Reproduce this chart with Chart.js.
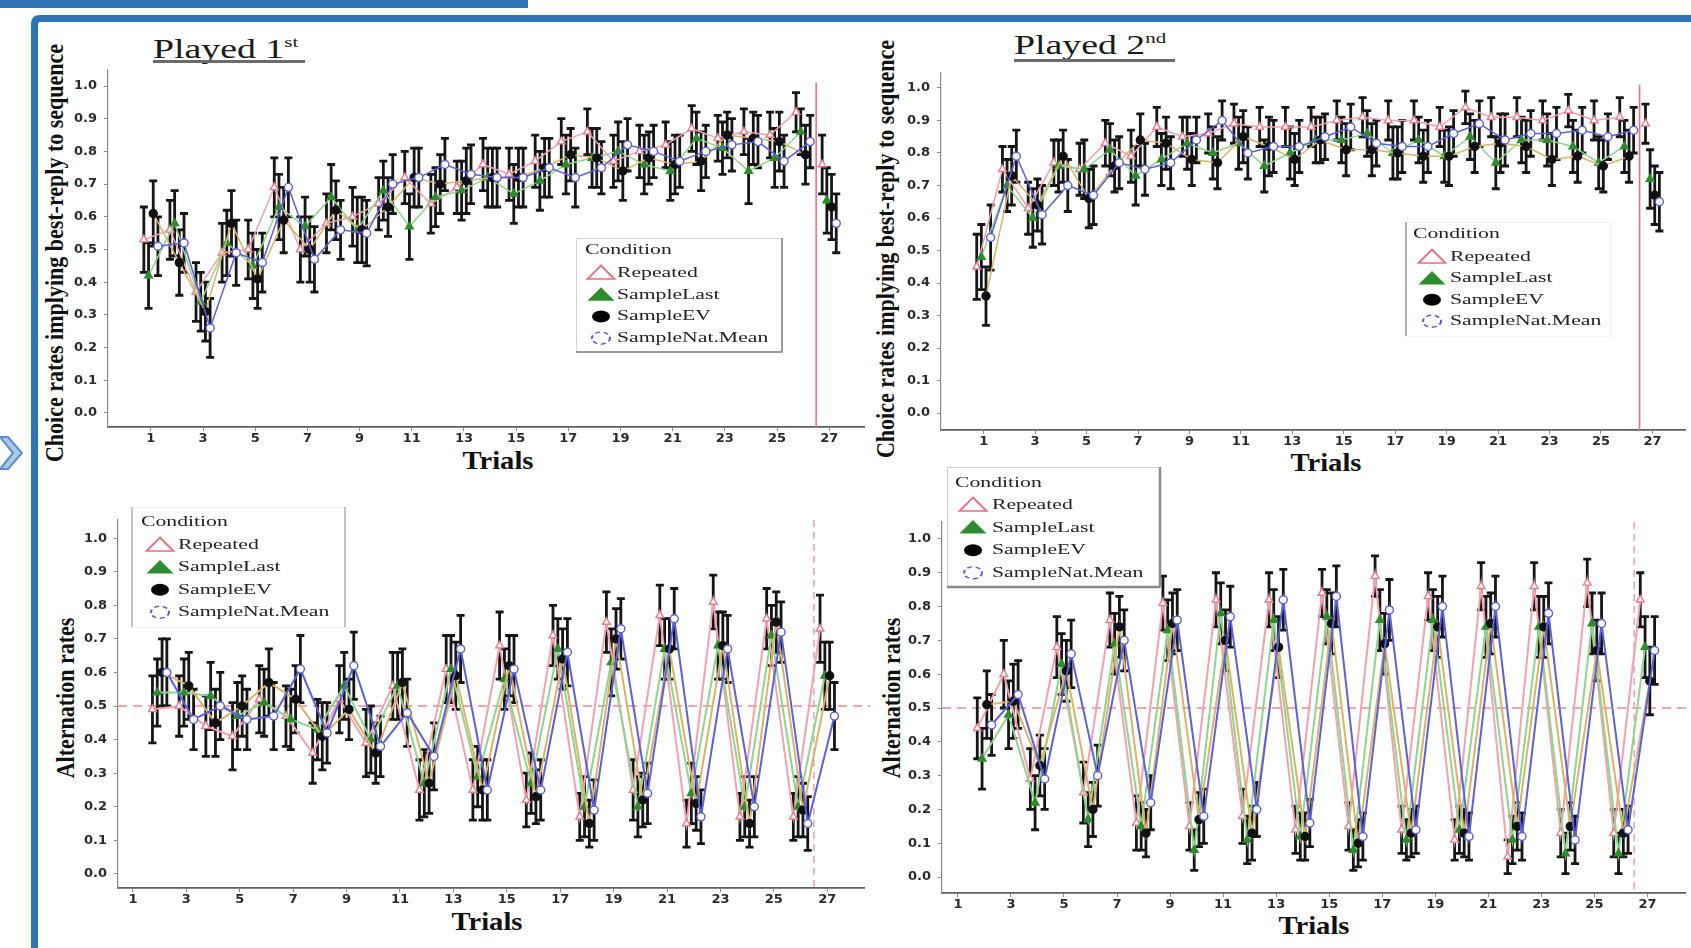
<!DOCTYPE html>
<html>
<head>
<meta charset="utf-8">
<script src="https://cdn.jsdelivr.net/npm/chart.js@4.4.1/dist/chart.umd.min.js"></script>
<style>
  html, body { margin:0; padding:0; background:#fff; }
  body { width:1691px; height:948px; overflow:hidden; position:relative; font-family:'Liberation Serif', serif; }
  canvas { position:absolute; }
  #deco { position:absolute; left:0; top:0; }
  .ttl { position:absolute; white-space:nowrap; color:#1a1a1a; font-size:27px; line-height:1; transform-origin:0 0; transform:scaleX(1.4); }
  .ttl span { font-size:15px; position:relative; top:-11px; }
  .uline { position:absolute; height:3px; background:#6b6b6b; }
  .ytitle, .xtitle { position:absolute; left:0; top:0; white-space:nowrap; font-weight:bold; color:#111; line-height:1; transform-origin:0 0; }
  .ytitle { font-size:22px; }
  .xtitle { font-size:26px; }
</style>
</head>
<body>
<svg id="deco" width="1691" height="948">
  <rect x="0" y="0" width="528" height="8" fill="#2e74b5"/>
  <path d="M34.5 948 V24 Q34.5 18.5 40 18.5 H1691" fill="none" stroke="#2e74b5" stroke-width="7"/>
  <polygon points="0,437 8,437 22,453 8,469 0,469 13,453" fill="#a9c9e8" stroke="#5b8fc9" stroke-width="2"/>
</svg>

<div class="ttl" style="left:153px;top:36px">Played 1<span>st</span></div>
<div class="uline" style="left:153px;top:60px;width:152px"></div>
<div class="ttl" style="left:1014px;top:32px">Played 2<span>nd</span></div>
<div class="uline" style="left:1014px;top:59px;width:161px"></div>

<div class="ytitle" id="yt1">Choice rates implying best-reply to sequence</div>
<div class="ytitle" id="yt2">Choice rates implying best-reply to sequence</div>
<div class="ytitle" id="yt3">Alternation rates</div>
<div class="ytitle" id="yt4">Alternation rates</div>
<div class="xtitle" id="xt1">Trials</div>
<div class="xtitle" id="xt2">Trials</div>
<div class="xtitle" id="xt3">Trials</div>
<div class="xtitle" id="xt4">Trials</div>

<canvas id="c1" width="830" height="456" style="left:40px;top:22px"></canvas>
<canvas id="c2" width="821" height="456" style="left:870px;top:22px"></canvas>
<canvas id="c3" width="830" height="470" style="left:40px;top:478px"></canvas>
<canvas id="c4" width="821" height="508" style="left:870px;top:440px"></canvas>

<script>
// ---------------- DATA ----------------
const trials = [1,2,3,4,5,6,7,8,9,10,11,12,13,14,15,16,17,18,19,20,21,22,23,24,25,26,27];
const xTicks = [1,3,5,7,9,11,13,15,17,19,21,23,25,27];
const yTicks = [0,0.1,0.2,0.3,0.4,0.5,0.6,0.7,0.8,0.9,1.0];
const series = ['Repeated','SampleLast','SampleEV','SampleNat.Mean'];
const cutTrial = 26.5;
const chanceLevel = 0.5;

// Played 1st - choice rates
const p1cRep  = [0.53,0.56,0.37,0.49,0.50,0.69,0.50,0.58,0.60,0.64,0.72,0.64,0.69,0.76,0.73,0.77,0.83,0.86,0.77,0.80,0.82,0.87,0.84,0.86,0.85,0.92,0.76];
const p1cLast = [0.42,0.58,0.34,0.52,0.45,0.63,0.57,0.66,0.56,0.68,0.57,0.66,0.68,0.72,0.67,0.71,0.76,0.78,0.80,0.76,0.74,0.84,0.81,0.74,0.78,0.86,0.65];
const p1cEV   = [0.61,0.46,0.31,0.58,0.41,0.59,0.50,0.62,0.56,0.63,0.72,0.70,0.71,0.72,0.72,0.75,0.79,0.78,0.74,0.78,0.76,0.77,0.85,0.84,0.83,0.79,0.63];
const p1cNat  = [0.51,0.52,0.26,0.49,0.46,0.69,0.47,0.56,0.55,0.70,0.72,0.76,0.73,0.72,0.72,0.75,0.72,0.75,0.82,0.80,0.77,0.80,0.82,0.83,0.77,0.83,0.58];
const p1cRepErr  = [0.10,0.09,0.09,0.09,0.09,0.09,0.10,0.09,0.09,0.08,0.08,0.09,0.08,0.08,0.08,0.08,0.07,0.07,0.08,0.08,0.07,0.07,0.07,0.07,0.07,0.06,0.09];
const p1cLastErr = [0.10,0.10,0.09,0.10,0.10,0.10,0.09,0.10,0.10,0.09,0.10,0.09,0.09,0.09,0.09,0.09,0.09,0.09,0.09,0.09,0.09,0.08,0.08,0.10,0.09,0.07,0.10];
const p1cEVErr   = [0.10,0.10,0.09,0.10,0.09,0.10,0.10,0.09,0.10,0.09,0.09,0.09,0.10,0.09,0.09,0.09,0.08,0.09,0.09,0.08,0.09,0.09,0.07,0.08,0.09,0.09,0.10];
const p1cNatErr  = [0.09,0.09,0.09,0.10,0.09,0.09,0.10,0.09,0.10,0.09,0.09,0.08,0.09,0.09,0.09,0.09,0.09,0.08,0.08,0.08,0.08,0.08,0.08,0.08,0.08,0.08,0.09];

// Played 2nd - choice rates
const p2cRep  = [0.45,0.75,0.63,0.77,0.75,0.83,0.79,0.88,0.85,0.86,0.89,0.88,0.88,0.88,0.90,0.91,0.90,0.90,0.88,0.94,0.91,0.91,0.90,0.93,0.90,0.91,0.89];
const p2cLast = [0.48,0.70,0.60,0.76,0.75,0.81,0.73,0.78,0.83,0.80,0.83,0.76,0.80,0.84,0.84,0.86,0.80,0.84,0.79,0.85,0.77,0.84,0.84,0.82,0.77,0.82,0.72];
const p2cEV   = [0.36,0.73,0.64,0.79,0.66,0.76,0.84,0.83,0.78,0.77,0.85,0.82,0.78,0.84,0.81,0.81,0.80,0.79,0.79,0.82,0.83,0.82,0.78,0.79,0.76,0.79,0.67];
const p2cNat  = [0.54,0.79,0.61,0.70,0.67,0.77,0.75,0.77,0.84,0.90,0.80,0.82,0.82,0.85,0.88,0.83,0.82,0.82,0.86,0.89,0.84,0.86,0.86,0.87,0.85,0.87,0.65];
const p2cRepErr  = [0.10,0.07,0.08,0.07,0.08,0.07,0.08,0.06,0.06,0.06,0.06,0.06,0.06,0.06,0.06,0.06,0.06,0.06,0.06,0.05,0.06,0.06,0.06,0.05,0.06,0.06,0.06];
const p2cLastErr = [0.10,0.08,0.09,0.08,0.09,0.08,0.09,0.08,0.08,0.08,0.08,0.08,0.08,0.07,0.07,0.07,0.08,0.07,0.08,0.07,0.08,0.07,0.08,0.08,0.08,0.08,0.09];
const p2cEVErr   = [0.09,0.09,0.08,0.08,0.09,0.08,0.08,0.08,0.08,0.08,0.08,0.09,0.08,0.07,0.08,0.08,0.08,0.08,0.09,0.08,0.09,0.08,0.08,0.08,0.08,0.08,0.09];
const p2cNatErr  = [0.10,0.08,0.09,0.08,0.09,0.08,0.08,0.08,0.07,0.06,0.08,0.08,0.08,0.07,0.07,0.07,0.08,0.08,0.07,0.07,0.08,0.07,0.08,0.07,0.07,0.07,0.09];

// Played 1st - alternation rates
const p1aRep  = [null,0.49,0.50,0.44,0.41,0.52,0.47,0.36,0.52,0.39,0.56,0.25,0.61,0.25,0.68,0.22,0.71,0.17,0.75,0.25,0.77,0.15,0.81,0.17,0.76,0.17,0.73];
const p1aLast = [null,0.54,0.54,0.53,0.47,0.51,0.46,0.43,0.56,0.40,0.56,0.27,0.61,0.29,0.58,0.27,0.67,0.20,0.63,0.20,0.67,0.24,0.68,0.20,0.71,0.20,0.59];
const p1aEV   = [null,0.60,0.56,0.45,0.50,0.57,0.52,0.41,0.49,0.36,0.57,0.27,0.59,0.25,0.62,0.23,0.64,0.15,0.70,0.22,0.67,0.21,0.68,0.15,0.75,0.19,0.59];
const p1aNat  = [null,0.60,0.46,0.50,0.46,0.47,0.61,0.42,0.62,0.38,0.48,0.35,0.67,0.25,0.61,0.25,0.66,0.19,0.73,0.24,0.76,0.17,0.67,0.20,0.72,0.15,0.47];
const p1aRepErr  = [null,0.10,0.09,0.09,0.10,0.10,0.09,0.09,0.10,0.10,0.10,0.09,0.10,0.09,0.10,0.08,0.09,0.07,0.09,0.09,0.09,0.07,0.08,0.07,0.09,0.07,0.10];
const p1aLastErr = [null,0.10,0.10,0.10,0.10,0.10,0.09,0.09,0.10,0.10,0.10,0.10,0.10,0.09,0.09,0.09,0.09,0.09,0.10,0.09,0.09,0.09,0.10,0.09,0.09,0.09,0.10];
const p1aEVErr   = [null,0.10,0.10,0.10,0.09,0.10,0.10,0.10,0.09,0.09,0.10,0.09,0.10,0.09,0.09,0.08,0.09,0.07,0.09,0.08,0.09,0.08,0.10,0.07,0.09,0.08,0.10];
const p1aNatErr  = [null,0.10,0.09,0.10,0.09,0.10,0.10,0.09,0.10,0.09,0.10,0.10,0.10,0.09,0.10,0.09,0.10,0.09,0.09,0.09,0.09,0.08,0.10,0.09,0.09,0.08,0.10];

// Played 2nd - alternation rates
const p2aRep  = [null,0.44,0.60,0.29,0.68,0.25,0.76,0.16,0.81,0.15,0.82,0.18,0.82,0.14,0.84,0.15,0.89,0.14,0.83,0.11,0.86,0.06,0.86,0.13,0.87,0.13,0.82];
const p2aLast = [null,0.35,0.48,0.22,0.63,0.17,0.69,0.15,0.73,0.08,0.78,0.11,0.76,0.12,0.77,0.08,0.76,0.11,0.76,0.14,0.74,0.11,0.74,0.07,0.75,0.07,0.68];
const p2aEV   = [null,0.51,0.52,0.33,0.61,0.20,0.74,0.13,0.75,0.17,0.70,0.13,0.68,0.12,0.75,0.10,0.69,0.13,0.74,0.13,0.75,0.15,0.74,0.15,0.67,0.13,0.58];
const p2aNat  = [null,0.45,0.54,0.29,0.66,0.30,0.70,0.22,0.76,0.18,0.77,0.20,0.82,0.16,0.83,0.12,0.79,0.14,0.80,0.12,0.80,0.12,0.78,0.11,0.75,0.14,0.67];
const p2aRepErr  = [null,0.09,0.10,0.09,0.09,0.09,0.08,0.08,0.08,0.07,0.08,0.08,0.08,0.07,0.07,0.07,0.06,0.07,0.07,0.06,0.07,0.05,0.07,0.07,0.07,0.07,0.08];
const p2aLastErr = [null,0.09,0.10,0.08,0.09,0.08,0.09,0.07,0.09,0.06,0.09,0.07,0.09,0.07,0.08,0.06,0.09,0.06,0.09,0.07,0.09,0.07,0.09,0.06,0.09,0.06,0.09];
const p2aEVErr   = [null,0.10,0.11,0.09,0.09,0.08,0.09,0.07,0.09,0.08,0.09,0.08,0.09,0.07,0.09,0.07,0.09,0.07,0.09,0.07,0.09,0.07,0.09,0.07,0.09,0.07,0.10];
const p2aNatErr  = [null,0.09,0.10,0.09,0.10,0.09,0.09,0.08,0.09,0.08,0.09,0.08,0.09,0.07,0.09,0.07,0.09,0.07,0.09,0.07,0.09,0.07,0.09,0.07,0.09,0.07,0.10];

// ---------------- STYLE ----------------
const dodge = [-0.27, -0.09, 0.09, 0.27];
const sty = [
  { line:'#f2a2ae', pt:'triangle', bg:'#ffffff', bd:'#e97c8c', r:4.5 },
  { line:'#8fd48f', pt:'triangle', bg:'#2e8b2e', bd:'#2e8b2e', r:4.5 },
  { line:'#d8b36c', pt:'circle',   bg:'#111111', bd:'#111111', r:4   },
  { line:'#5c61da', pt:'circle',   bg:'#ffffff', bd:'#5a5ed4', r:4   }
];
const TICK_FONT = { family:'DejaVu Sans', weight:'bold', size:13 };

// ---------------- PLUGINS ----------------
const refLines = {
  id:'refLines',
  beforeDatasetsDraw(chart, args, o) {
    const { ctx, chartArea:a, scales:{ x, y } } = chart;
    ctx.save();
    ctx.strokeStyle = o.color; ctx.lineWidth = o.width; ctx.setLineDash(o.dash || []);
    const px = x.getPixelForValue(cutTrial);
    const top = o.vTop != null ? y.getPixelForValue(o.vTop) : a.top;
    ctx.beginPath(); ctx.moveTo(px, top); ctx.lineTo(px, a.bottom); ctx.stroke();
    if (o.hLine != null) {
      const py = y.getPixelForValue(o.hLine);
      ctx.strokeStyle = o.hColor; ctx.lineWidth = o.hWidth; ctx.setLineDash(o.hDash);
      ctx.beginPath(); ctx.moveTo(a.left, py); ctx.lineTo(a.right + 10, py); ctx.stroke();
    }
    ctx.restore();
  }
};

const errorBars = {
  id:'errorBars',
  beforeDatasetsDraw(chart) {
    const { ctx, scales:{ y } } = chart;
    ctx.save();
    ctx.strokeStyle = '#161616'; ctx.lineWidth = 2.8; ctx.lineCap = 'butt';
    chart.data.datasets.forEach((ds, di) => {
      const meta = chart.getDatasetMeta(di);
      meta.data.forEach((pt, i) => {
        const v = ds.data[i].y, e = ds.err[i];
        if (v == null || e == null) return;
        const x = pt.x, y1 = y.getPixelForValue(v - e), y2 = y.getPixelForValue(v + e);
        ctx.beginPath();
        ctx.moveTo(x, y1); ctx.lineTo(x, y2);
        ctx.moveTo(x - 4, y1); ctx.lineTo(x + 4, y1);
        ctx.moveTo(x - 4, y2); ctx.lineTo(x + 4, y2);
        ctx.stroke();
      });
    });
    ctx.restore();
  }
};

function stretchedText(ctx, txt, x, y, sx) {
  ctx.save(); ctx.translate(x, y); ctx.scale(sx, 1); ctx.fillText(txt, 0, 0); ctx.restore();
}
function legendMarker(ctx, s, x, y) {
  ctx.save(); ctx.translate(x, y); ctx.scale(1.5, 1);
  ctx.beginPath();
  if (s < 2) { ctx.moveTo(0, -7.5); ctx.lineTo(9, 6); ctx.lineTo(-9, 6); ctx.closePath(); }
  else { ctx.arc(0, 0, 6, 0, Math.PI * 2); }
  if (s === 0) { ctx.fillStyle = '#fff'; ctx.fill(); ctx.strokeStyle = '#e46f80'; ctx.lineWidth = 1.5; ctx.stroke(); }
  if (s === 1) { ctx.fillStyle = '#2e8b2e'; ctx.fill(); }
  if (s === 2) { ctx.fillStyle = '#050505'; ctx.fill(); }
  if (s === 3) { ctx.strokeStyle = '#5a5ecf'; ctx.lineWidth = 1.4; ctx.setLineDash([3.5, 2.5]); ctx.stroke(); }
  ctx.restore();
}
const condLegend = {
  id:'condLegend',
  afterDraw(chart, args, o) {
    const ctx = chart.ctx;
    ctx.save();
    ctx.fillStyle = '#fff';
    ctx.fillRect(o.x, o.y, o.w, o.h);
    ctx.lineWidth = 1;
    ctx.strokeStyle = o.faint;
    ctx.strokeRect(o.x + 0.5, o.y + 0.5, o.w, o.h);
    ctx.strokeStyle = o.edge; ctx.lineWidth = o.edgeW;
    ctx.beginPath();
    o.edges.forEach(e => {
      if (e === 'l') { ctx.moveTo(o.x, o.y); ctx.lineTo(o.x, o.y + o.h); }
      if (e === 'r') { ctx.moveTo(o.x + o.w, o.y); ctx.lineTo(o.x + o.w, o.y + o.h); }
      if (e === 'b') { ctx.moveTo(o.x, o.y + o.h); ctx.lineTo(o.x + o.w, o.y + o.h); }
    });
    ctx.stroke();
    ctx.font = '15.5px "Liberation Serif"';
    ctx.textBaseline = 'middle';
    ctx.fillStyle = '#222';
    stretchedText(ctx, 'Condition', o.tx, o.ty, 1.4);
    series.forEach((name, s) => {
      const yy = o.y0 + s * o.dy;
      legendMarker(ctx, s, o.mx, yy);
      ctx.fillStyle = '#222';
      stretchedText(ctx, name, o.textX, yy, 1.4);
    });
    ctx.restore();
  }
};

// ---------------- BUILD ----------------
function datasets(vals, errs, breakLast, lw) {
  return vals.map((v, s) => ({
    label: series[s],
    data: trials.map((t, i) => ({ x: t + dodge[s], y: v[i] })),
    err: errs[s],
    order: 3 - s,
    borderColor: sty[s].line,
    borderWidth: lw,
    pointStyle: sty[s].pt,
    pointRadius: sty[s].r,
    pointBackgroundColor: sty[s].bg,
    pointBorderColor: sty[s].bd,
    pointBorderWidth: 1.4,
    tension: 0,
    spanGaps: false,
    segment: { borderColor: c => (breakLast && c.p1DataIndex === trials.length - 1) ? 'rgba(0,0,0,0)' : undefined }
  }));
}

function makeChart(id, p) {
  new Chart(document.getElementById(id), {
    type: 'line',
    data: { datasets: datasets(p.vals, p.errs, p.breakLast, p.lw) },
    options: {
      responsive: false, animation: false, devicePixelRatio: 1,
      layout: { padding: p.pad },
      plugins: {
        legend: { display: false }, tooltip: { enabled: false },
        refLines: p.ref, condLegend: p.legend
      },
      scales: {
        x: {
          type: 'linear', min: p.xr[0], max: p.xr[1],
          afterBuildTicks: s => { s.ticks = xTicks.map(v => ({ value: v })); },
          afterFit: s => { s.height = 30; },
          ticks: { font: TICK_FONT, color: '#2a2a2a', padding: 0, maxRotation: 0, autoSkip: false, callback: v => String(v) },
          grid: { display: true, drawOnChartArea: false, drawTicks: true, tickLength: 4, tickColor: '#8a8a8a' },
          border: { display: true, color: '#5e5e5e', width: 1.8 }
        },
        y: {
          min: p.yr[0], max: p.yr[1],
          afterBuildTicks: s => { s.ticks = yTicks.map(v => ({ value: v })); },
          afterFit: s => { s.width = p.yw; },
          ticks: { font: TICK_FONT, color: '#2a2a2a', padding: 7, autoSkip: false, callback: v => v.toFixed(1) },
          grid: { display: true, drawOnChartArea: false, drawTicks: true, tickLength: 4, tickColor: '#8a8a8a' },
          border: { display: true, color: '#8a8a8a', width: 1.2 }
        }
      }
    },
    plugins: [refLines, errorBars, condLegend]
  });
}

const topRef = { color:'#ee6f82', width:1.6, dash:[], vTop:1.01, hLine:null };
const botRef = { color:'#f0a0aa', width:1.5, dash:[7,5], vTop:null, hLine:chanceLevel, hColor:'#f2a5ad', hWidth:2, hDash:[9,6] };

makeChart('c1', {
  vals:[p1cRep,p1cLast,p1cEV,p1cNat], errs:[p1cRepErr,p1cLastErr,p1cEVErr,p1cNatErr],
  breakLast:true, lw:1.5, pad:{ top:48, right:4, bottom:21, left:0 }, yw:68,
  xr:[-0.644, 28.338], yr:[-0.043, 1.049], ref: topRef,
  legend:{ x:536, y:216, w:206, h:114, faint:'#d4d4d4', edge:'#9c9c9c', edgeW:2, edges:['r','b'],
           tx:545, ty:228, y0:251, dy:21.7, mx:561, textX:577 }
});
makeChart('c2', {
  vals:[p2cRep,p2cLast,p2cEV,p2cNat], errs:[p2cRepErr,p2cLastErr,p2cEVErr,p2cNatErr],
  breakLast:true, lw:1.5, pad:{ top:51, right:0, bottom:18, left:0 }, yw:71,
  xr:[-0.659, 28.27], yr:[-0.052, 1.046], ref: topRef,
  legend:{ x:536, y:200, w:204, h:114, faint:'#f0f0f0', edge:'#b0b0b0', edgeW:2, edges:['l'],
           tx:543, ty:212, y0:235, dy:21.4, mx:562, textX:580 }
});
makeChart('c3', {
  vals:[p1aRep,p1aLast,p1aEV,p1aNat], errs:[p1aRepErr,p1aLastErr,p1aEVErr,p1aNatErr],
  breakLast:false, lw:2, pad:{ top:42, right:4, bottom:30, left:0 }, yw:78,
  xr:[0.44, 28.38], yr:[-0.042, 1.054], ref: botRef,
  legend:{ x:92, y:29, w:213, h:120, faint:'#f0f0f0', edge:'#b8b8b8', edgeW:1.6, edges:['l','r'],
           tx:101, ty:44, y0:67, dy:22.4, mx:120, textX:138 }
});
makeChart('c4', {
  vals:[p2aRep,p2aLast,p2aEV,p2aNat], errs:[p2aRepErr,p2aLastErr,p2aEVErr,p2aNatErr],
  breakLast:false, lw:2, pad:{ top:82, right:0, bottom:25, left:0 }, yw:72,
  xr:[0.40, 28.42], yr:[-0.047, 1.05], ref: botRef,
  legend:{ x:77, y:27, w:213, h:120, faint:'#cfcfcf', edge:'#8a8a8a', edgeW:2.5, edges:['r','b'],
           tx:85, ty:43, y0:65, dy:22.6, mx:103, textX:122 }
});

// ---------------- TEXT PLACEMENT ----------------
function placeY(id, cx, cy, sx) {
  document.getElementById(id).style.transform =
    `translate(${cx}px, ${cy}px) scaleX(${sx}) rotate(-90deg) translate(-50%, -50%)`;
}
function placeX(id, cx, cy, sx) {
  document.getElementById(id).style.transform =
    `translate(${cx}px, ${cy}px) scaleX(${sx}) translate(-50%, -50%)`;
}
placeY('yt1', 55, 253, 1.1);
placeY('yt2', 886, 249, 1.1);
placeY('yt3', 66, 698, 1.1);
placeY('yt4', 892, 698, 1.1);
placeX('xt1', 498, 461, 1.1);
placeX('xt2', 1326, 463, 1.1);
placeX('xt3', 487, 922, 1.1);
placeX('xt4', 1314, 926, 1.1);
</script>
</body>
</html>
